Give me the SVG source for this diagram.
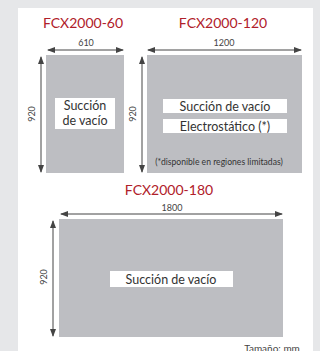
<svg xmlns="http://www.w3.org/2000/svg" width="320" height="351" viewBox="0 0 320 351">
<style>
.title{font-family:"Lato","Open Sans","Liberation Sans",sans-serif;font-size:14px;fill:#b0202a;text-anchor:middle}
.dim{font-family:"Lato","Liberation Sans",sans-serif;font-size:9px;fill:#444;text-anchor:middle}
.lbl{font-family:"Lato","Liberation Sans",sans-serif;font-size:12.5px;fill:#333;text-anchor:middle}
.note{font-family:"Lato","Liberation Sans",sans-serif;font-size:8.6px;fill:#333;text-anchor:middle}
.box{fill:#bdbec2}
.wb{fill:#fff}
.ar{stroke:#444;stroke-width:1;fill:none;marker-start:url(#ah);marker-end:url(#ah)}
</style>
<defs>
<marker id="ah" viewBox="0 0 8 6" refX="7" refY="3" markerWidth="8" markerHeight="6" orient="auto-start-reverse" markerUnits="userSpaceOnUse">
<path d="M0,0 L8,3 L0,6 Z" fill="#444"/>
</marker>
</defs>
<rect x="0" y="0" width="320" height="351" fill="#e6e7e9"/>
<rect x="18" y="8" width="295" height="343" fill="#fff"/>
<g id="fcx60">
<text class="title" x="83" y="28">FCX2000-60</text>
<rect class="box" x="46" y="55" width="78" height="118"/>
<rect class="wb" x="55" y="98" width="60" height="31"/>
<text class="lbl" x="85" y="110">Succión</text>
<text class="lbl" x="85" y="125">de vacío</text>
</g>
<g id="fcx120">
<text class="title" x="223" y="28">FCX2000-120</text>
<rect class="box" x="147" y="55" width="155" height="118"/>
<rect class="wb" x="163" y="99" width="124" height="14"/>
<rect class="wb" x="163" y="119" width="124" height="14"/>
<text class="lbl" x="225" y="111">Succión de vacío</text>
<text class="lbl" x="225" y="131">Electrostático (*)</text>
<text class="note" x="219" y="165">(*disponible en regiones limitadas)</text>
</g>
<g id="fcx180">
<text class="title" x="169" y="195">FCX2000-180</text>
<rect class="box" x="59" y="219" width="224" height="118"/>
<rect class="wb" x="110" y="271" width="123" height="16"/>
<text class="lbl" x="171" y="284">Succión de vacío</text>
</g>
<g id="connectors">
<line class="ar" x1="48" y1="50" x2="123" y2="50"/>
<line class="ar" x1="41" y1="57" x2="41" y2="172"/>
<line class="ar" x1="148" y1="50" x2="301" y2="50"/>
<line class="ar" x1="142" y1="57" x2="142" y2="172"/>
<line class="ar" x1="61" y1="214" x2="282" y2="214"/>
<line class="ar" x1="53" y1="221" x2="53" y2="336"/>
</g>
<g id="dims">
<text class="dim" x="86" y="46">610</text>
<text class="dim" x="224" y="46">1200</text>
<text class="dim" x="172" y="211">1800</text>
<text class="dim" transform="translate(35,114) rotate(-90)">920</text>
<text class="dim" transform="translate(136,114) rotate(-90)">920</text>
<text class="dim" transform="translate(47,277) rotate(-90)">920</text>
<text class="dim" x="272" y="352" style="font-size:10px">Tamaño: mm</text>
</g>
</svg>
